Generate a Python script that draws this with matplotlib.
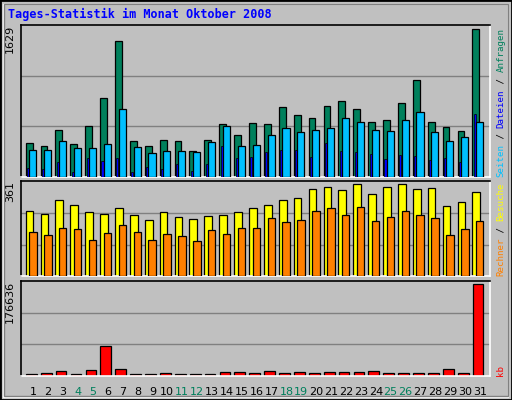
import matplotlib
matplotlib.use("Agg")
import matplotlib.pyplot as plt
from matplotlib.patches import Rectangle
import numpy as np

days = list(range(1, 32))
weekend = [4, 5, 11, 12, 18, 19, 25, 26]
anfragen = [380,346,523,369,568,877,1497,402,346,413,402,291,413,590,468,601,590,767,689,656,778,833,745,612,634,811,1065,612,557,512,1629]
seiten = [302,302,402,324,324,369,745,335,269,291,291,280,391,568,346,358,468,546,501,523,546,656,612,523,512,634,722,501,402,446,612]
dateien = [96,85,162,52,206,173,206,52,107,85,140,63,140,339,206,217,273,295,295,217,372,284,273,251,195,240,229,184,206,162,700]
besuche = [255,243,298,279,251,243,267,239,220,251,232,224,235,239,251,267,279,298,306,341,349,337,361,322,349,361,341,345,275,290,330]
rechner = [173,161,188,184,141,169,200,173,141,165,157,137,181,165,188,188,228,212,220,255,267,239,271,216,232,255,239,228,161,184,216]
kb = [2579,4513,8381,2579,10315,56733,12249,2579,2579,4513,2579,2579,2579,6447,6447,4513,8381,4513,6447,4513,6447,6447,6447,8381,4513,4513,4513,4513,12249,4513,176636]

W, H = 512, 400
fig = plt.figure(figsize=(5.12, 4.0), dpi=100, facecolor="#C0C0C0")
fig.patches.append(Rectangle((0, 0), 1, 1, transform=fig.transFigure, fill=False, ec="black", lw=2))
fig.patches.append(Rectangle((3/W, 3/H), 1-7/W, 1-7/H, transform=fig.transFigure, fill=False, ec="white", lw=1))
fig.patches.append(Rectangle((4/W, 4/H), 1-8/W, 1-8/H, transform=fig.transFigure, fill=False, ec="#808080", lw=1))

def mkax(top, bot):
    ax = fig.add_axes([20.7/W, 1-bot/H, (490-20.7)/W, (bot-top)/H])
    ax.set_facecolor("#C0C0C0")
    ax.set_xlim(0.155, 31.67)
    ax.set_xticks([]); ax.set_yticks([])
    for s in ["top", "left"]:
        ax.spines[s].set_color("black")
    for s in ["bottom", "right"]:
        ax.spines[s].set_color("white")
    for sp in ax.spines.values():
        sp.set_linewidth(1.2)
    return ax

x = np.array(days, dtype=float)
ec = dict(edgecolor="black", linewidth=0.9)

ax1 = mkax(25, 177)
m1 = 1629 * 455 / 442
ax1.set_ylim(0, m1)
for g in (m1/3, 2*m1/3):
    ax1.axhline(g, color="#808080", lw=1, zorder=0)
ax1.bar(x - 0.51, anfragen, width=0.46, align="edge", color="#00805C", **ec, zorder=2)
ax1.bar(x - 0.42, dateien, width=0.14, align="edge", color="#0000FF", edgecolor="black", linewidth=0.5, zorder=3)
ax1.bar(x - 0.27, seiten, width=0.48, align="edge", color="#00C0FF", **ec, zorder=4)
ax1.text(-0.012, 1.0, "1629", transform=ax1.transAxes, rotation=90, ha="right", va="top", fontsize=8)

ax2 = mkax(181, 276.3)
m2 = 361 * 286 / 276
ax2.set_ylim(0, m2)
for g in (m2/3, 2*m2/3):
    ax2.axhline(g, color="#808080", lw=1, zorder=0)
ax2.bar(x - 0.51, besuche, width=0.52, align="edge", color="#FFFF00", **ec, zorder=2)
ax2.bar(x - 0.27, rechner, width=0.5, align="edge", color="#FF8000", **ec, zorder=3)
ax2.text(-0.012, 1.0, "361", transform=ax2.transAxes, rotation=90, ha="right", va="top", fontsize=8)

ax3 = mkax(281, 375.7)
m3 = 176636 * 284 / 274
ax3.set_ylim(0, m3)
for g in (m3/3, 2*m3/3):
    ax3.axhline(g, color="#808080", lw=1, zorder=0)
ax3.bar(x - 0.49, kb, width=0.72, align="edge", color="#FF0000", **ec, zorder=2)
ax3.text(-0.012, 1.0, "176636", transform=ax3.transAxes, rotation=90, ha="right", va="top", fontsize=8)

for d in days:
    ax3.text(d, -0.12, str(d), transform=ax3.get_xaxis_transform(), ha="center", va="top",
             fontsize=8, color="#00805C" if d in weekend else "black")

fig.text(8/W, 1-14/H, "Tages-Statistik im Monat Oktober 2008", fontsize=8.5, color="#0000FF",
         fontweight="bold", family="DejaVu Sans Mono", va="center", ha="left")

renderer = fig.canvas.get_renderer()
def vlabel(parts, ybot):
    y = ybot
    for s, c in parts:
        t = fig.text(501/W, 1-y/H, s, rotation=90, color=c, fontsize=6.6, ha="center", va="bottom",
                     family="DejaVu Sans Mono")
        bb = t.get_window_extent(renderer)
        y -= bb.height
vlabel([("Seiten", "#00C0FF"), (" / ", "black"), ("Dateien", "#0000FF"), (" / ", "black"), ("Anfragen", "#00805C")], 177)
vlabel([("Rechner", "#FF8000"), (" / ", "black"), ("Besuche", "#FFFF00")], 276)
vlabel([("kb", "#FF0000")], 376)

fig.savefig("out.png", dpi=100, facecolor=fig.get_facecolor())
